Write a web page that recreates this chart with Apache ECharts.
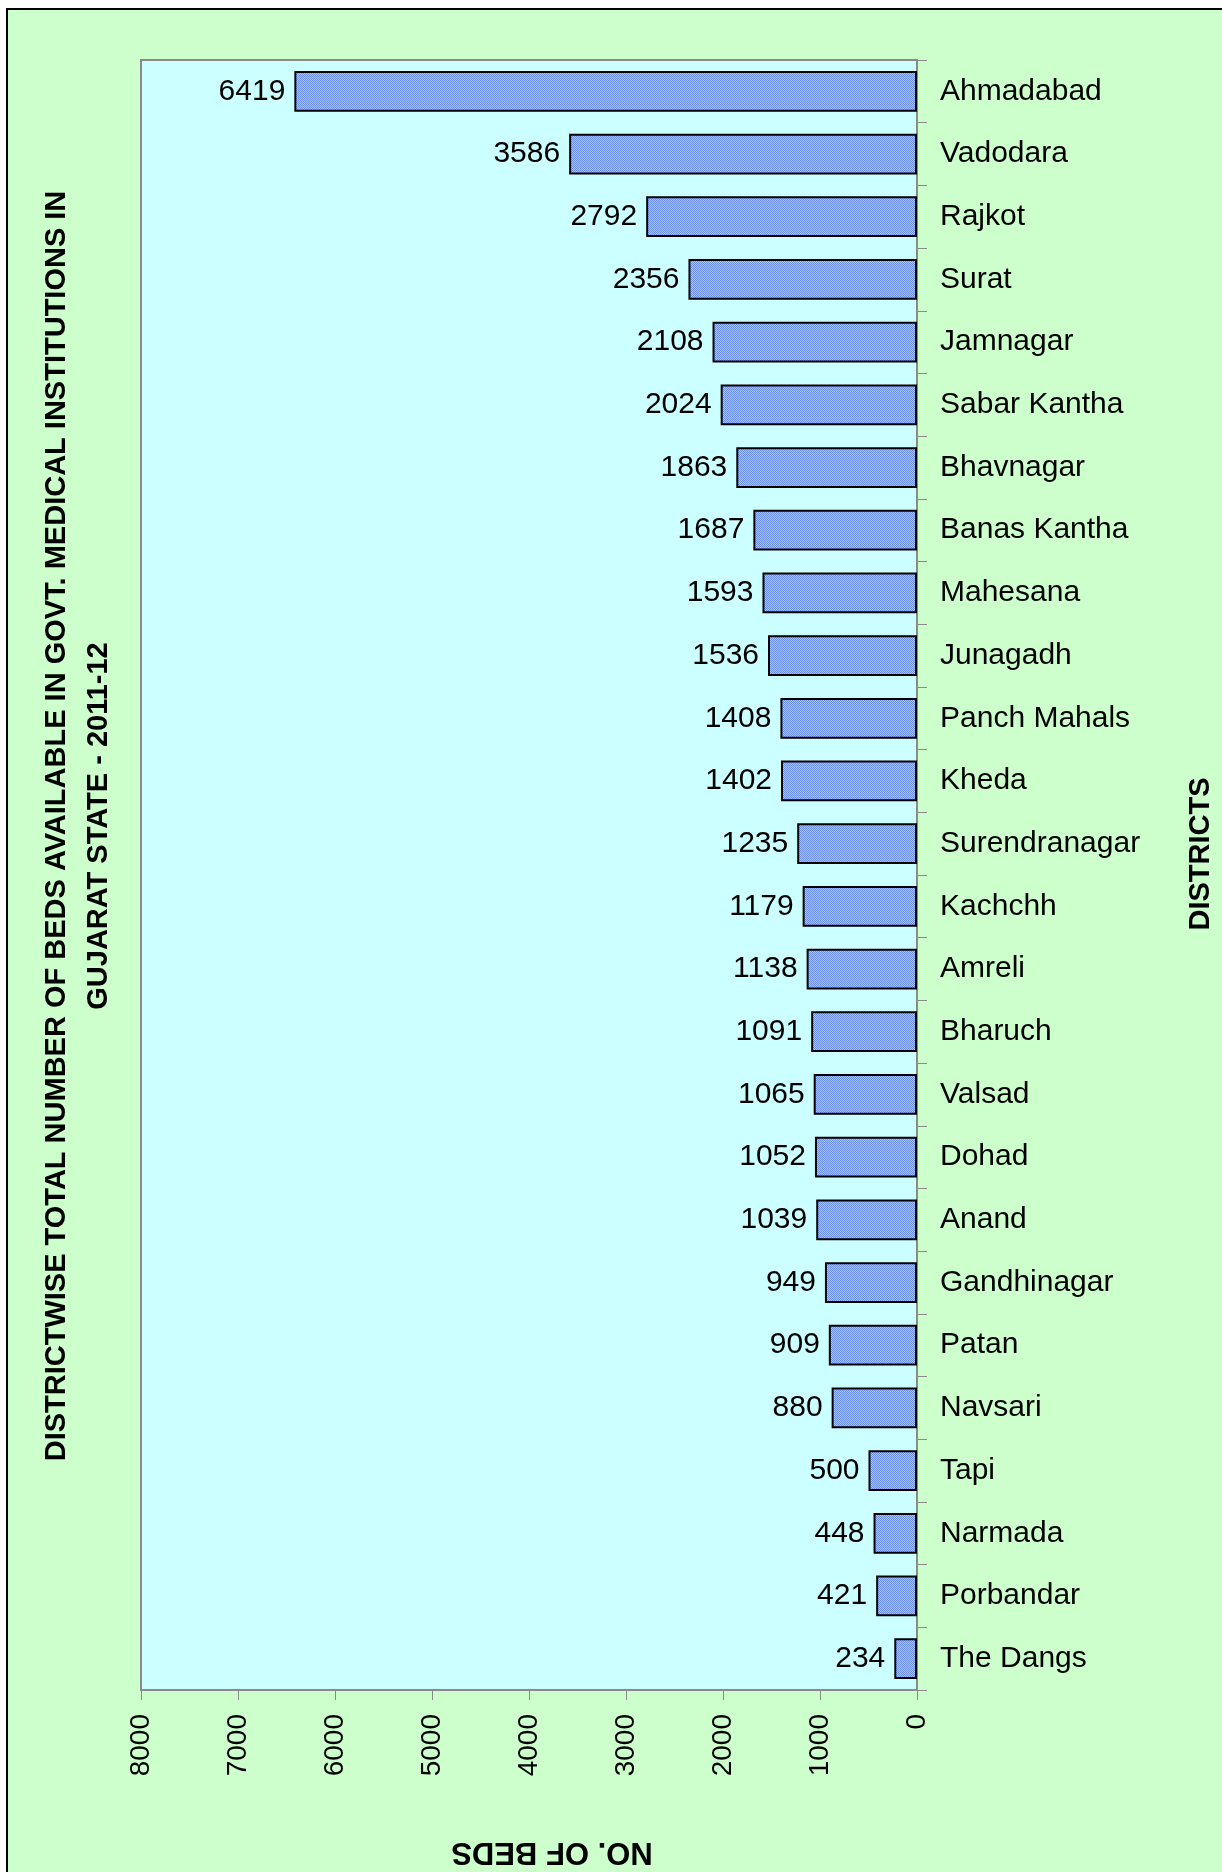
<!DOCTYPE html>
<html>
<head>
<meta charset="utf-8">
<title>Districtwise beds - Gujarat 2011-12</title>
<script src="https://cdn.jsdelivr.net/npm/echarts@6/dist/echarts.min.js"></script>
<style>
  html, body { margin: 0; padding: 0; background: #fff; }
  /* green sheet with black top/left rule, like the scanned page */
  #frame {
    position: absolute; left: 6px; top: 8px; width: 1230px; height: 1880px;
    background: #ccffcc; border-top: 2px solid #000; border-left: 2px solid #000;
  }
  #chart { position: absolute; left: 0; top: 0; width: 1222px; height: 1872px; }
</style>
</head>
<body>
<div id="frame"></div>
<div id="chart"></div>
<script>
// districts, top to bottom
const districts = [
  "Ahmadabad", "Vadodara", "Rajkot", "Surat", "Jamnagar", "Sabar Kantha",
  "Bhavnagar", "Banas Kantha", "Mahesana", "Junagadh", "Panch Mahals", "Kheda",
  "Surendranagar", "Kachchh", "Amreli", "Bharuch", "Valsad", "Dohad",
  "Anand", "Gandhinagar", "Patan", "Navsari", "Tapi", "Narmada",
  "Porbandar", "The Dangs"
];
const beds = [
  6419, 3586, 2792, 2356, 2108, 2024,
  1863, 1687, 1593, 1536, 1408, 1402,
  1235, 1179, 1138, 1091, 1065, 1052,
  1039, 949, 909, 880, 500, 448,
  421, 234
];
const titleLines = [
  "DISTRICTWISE TOTAL NUMBER OF BEDS AVAILABLE IN GOVT. MEDICAL INSTITUTIONS IN",
  "GUJARAT STATE - 2011-12"
];
const FONT = "'Liberation Sans', Arial, sans-serif";

// small checker pattern, mimics the Excel dotted fill
function makePattern() {
  const c = document.createElement("canvas");
  c.width = 2; c.height = 2;
  const ctx = c.getContext("2d");
  ctx.fillStyle = "#a6c2ff"; ctx.fillRect(0, 0, 2, 2);
  ctx.fillStyle = "#6b8ff0"; ctx.fillRect(0, 0, 1, 1); ctx.fillRect(1, 1, 1, 1);
  return c;
}

const chart = echarts.init(document.getElementById("chart"), null, { renderer: "canvas" });

const option = {
  backgroundColor: "transparent",
  animation: false,
  grid: {
    left: 141, right: 305, top: 60, bottom: 182,
    show: true,
    backgroundColor: "#ccffff",
    borderColor: "#8a8a8a",
    borderWidth: 2,
  },
  xAxis: {
    type: "value",
    inverse: true,
    position: "bottom",
    min: 0,
    max: 8000,
    interval: 1000,
    axisLine: { show: true, lineStyle: { color: "#8a8a8a", width: 2 } },
    axisTick: { show: true, length: 10, lineStyle: { color: "#8a8a8a" } },
    axisLabel: {
      rotate: 90, margin: 24, color: "#000", fontSize: 28, fontFamily: FONT,
      formatter: (v) => String(v),
    },
    splitLine: { show: false },
  },
  yAxis: {
    type: "category",
    inverse: true,
    position: "right",
    data: districts,
    axisLine: { show: true, lineStyle: { color: "#8a8a8a", width: 2 } },
    axisTick: { show: true, length: 10, lineStyle: { color: "#8a8a8a" } },
    axisLabel: {
      margin: 23, color: "#000", fontSize: 30, fontFamily: FONT, align: "left",
      padding: [5, 0, 0, 0],
    },
  },
  series: [
    {
      type: "bar",
      data: beds,
      barCategoryGap: "35%",
      itemStyle: {
        color: { image: makePattern(), repeat: "repeat" },
        borderColor: "#000",
        borderWidth: 2,
      },
      label: {
        show: true,
        position: "left",
        distance: 9,
        color: "#000",
        fontSize: 30,
        fontFamily: FONT,
        padding: [4, 0, 0, 0],
      },
    },
  ],
  graphic: [
    {
      // chart title, read bottom to top
      type: "text",
      x: 78,
      y: 826,
      rotation: Math.PI / 2,
      style: {
        text: titleLines.join("\n"),
        font: "bold 29px " + FONT,
        fill: "#000",
        align: "center",
        verticalAlign: "middle",
        lineHeight: 42,
      },
    },
    {
      type: "text",
      x: 1201,
      y: 854,
      rotation: Math.PI / 2,
      style: {
        text: "DISTRICTS",
        font: "bold 29px " + FONT,
        fill: "#000",
        align: "center",
        verticalAlign: "middle",
      },
    },
    {
      // value axis title is upside down in the source
      type: "text",
      x: 552,
      y: 1852,
      rotation: Math.PI,
      style: {
        text: "NO. OF BEDS",
        font: "bold 31px " + FONT,
        fill: "#000",
        align: "center",
        verticalAlign: "middle",
      },
    },
  ],
};

chart.setOption(option);
</script>
</body>
</html>
